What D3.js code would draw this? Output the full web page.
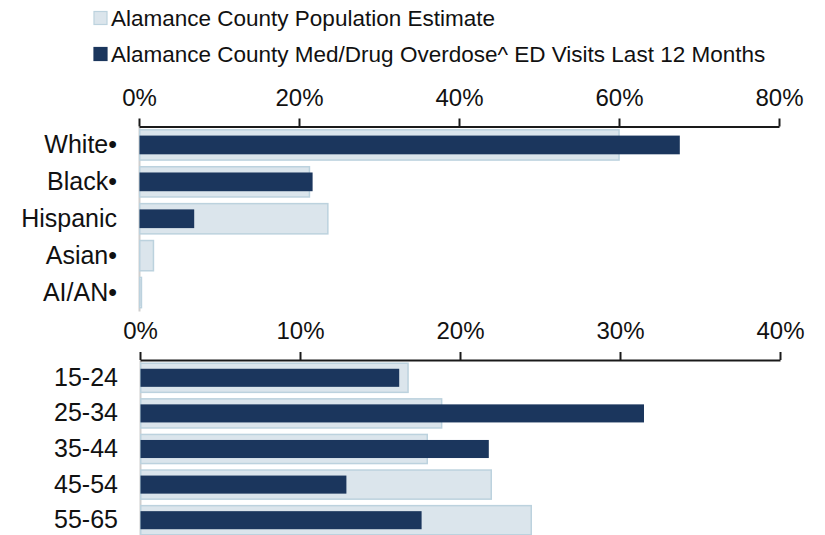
<!DOCTYPE html>
<html>
<head>
<meta charset="utf-8">
<script src="https://cdn.jsdelivr.net/npm/d3@7"></script>
<style>
  html, body { margin: 0; padding: 0; background: #fff; }
  svg { display: block; font-family: "Liberation Sans", Arial, sans-serif; }
</style>
</head>
<body>
<svg id="chart" width="825" height="535"></svg>
<script>
// Race / ethnicity panel (percent)
const raceCategories = ["White•", "Black•", "Hispanic", "Asian•", "AI/AN•"];
const racePopulation = [60.1, 21.4, 23.7, 1.9, 0.4];
const raceEdVisits   = [67.6, 21.7, 6.9, 0, 0];
const raceTicks = [0, 20, 40, 60, 80];

// Age group panel (percent)
const ageCategories = ["15-24", "25-34", "35-44", "45-54", "55-65"];
const agePopulation = [16.8, 18.9, 18.0, 22.0, 24.5];
const ageEdVisits   = [16.2, 31.5, 21.8, 12.9, 17.6];
const ageTicks = [0, 10, 20, 30, 40];

const legendLabels = [
  "Alamance County Population Estimate",
  "Alamance County Med/Drug Overdose^ ED Visits Last 12 Months"
];

const colors = {
  popFill: "#dbe5ec",
  popStroke: "#bcd2de",
  ed: "#1b365d",
  axis: "#1a1a1a",
  baseline: "#cfcfcf",
  text: "#111"
};

const svg = d3.select("#chart");

// Legend
const legend = svg.append("g");
const legendRows = [
  { label: legendLabels[0], fill: colors.popFill, stroke: colors.popStroke, y: 18 },
  { label: legendLabels[1], fill: colors.ed, stroke: colors.ed, y: 54 }
];
legendRows.forEach(r => {
  legend.append("rect")
    .attr("x", 94).attr("y", r.y - 6.5)
    .attr("width", 13).attr("height", 13)
    .attr("fill", r.fill).attr("stroke", r.stroke).attr("stroke-width", 1.2);
  legend.append("text")
    .attr("x", 111).attr("y", r.y)
    .attr("dy", "0.35em")
    .attr("font-size", 22.5)
    .attr("fill", colors.text)
    .text(r.label);
});

function panel(opts) {
  const { categories, population, edVisits, ticks, xMax, xRange, yRange } = opts;
  const g = svg.append("g");

  const x = d3.scaleLinear().domain([0, xMax]).range(xRange);
  const y = d3.scaleBand().domain(categories).range(yRange)
    .paddingInner(0.14).paddingOuter(0.07);

  const rows = categories.map((c, i) => ({ c, pop: population[i], ed: edVisits[i] }));

  // category axis (light baseline at zero)
  const yAxis = g.append("g")
    .attr("transform", `translate(${x(0)},0)`)
    .call(d3.axisLeft(y).tickSize(0).tickSizeOuter(0).tickPadding(22));
  yAxis.select(".domain").attr("stroke", colors.baseline).attr("stroke-width", 2);
  yAxis.selectAll("text")
    .attr("font-size", 25)
    .attr("fill", colors.text)
    .attr("font-family", "Liberation Sans, Arial, sans-serif");

  // population bars (wide, light)
  g.selectAll(".pop").data(rows).join("rect")
    .attr("class", "pop")
    .attr("x", x(0) + 0.75)
    .attr("y", d => y(d.c) + 0.75)
    .attr("width", d => Math.max(0, x(d.pop) - x(0) - 1.5))
    .attr("height", y.bandwidth() - 1.5)
    .attr("fill", colors.popFill)
    .attr("stroke", colors.popStroke)
    .attr("stroke-width", 1.5);

  // ED visit bars (narrow, dark)
  const edH = y.bandwidth() * 0.59;
  g.selectAll(".ed").data(rows.filter(d => d.ed > 0)).join("rect")
    .attr("class", "ed")
    .attr("x", x(0) + 0.5)
    .attr("y", d => y(d.c) + (y.bandwidth() - edH) / 2)
    .attr("width", d => x(d.ed) - x(0) - 0.5)
    .attr("height", edH)
    .attr("fill", colors.ed);

  // value axis on top
  const xAxis = g.append("g")
    .attr("transform", `translate(0,${yRange[0]})`)
    .call(d3.axisTop(x).tickValues(ticks).tickSize(8).tickSizeOuter(0)
      .tickPadding(13).tickFormat(d => d + "%"));
  xAxis.select(".domain").attr("stroke", colors.axis).attr("stroke-width", 2);
  xAxis.selectAll(".tick line").attr("stroke", colors.axis).attr("stroke-width", 2);
  xAxis.selectAll("text")
    .attr("font-size", 24)
    .attr("fill", colors.text)
    .attr("font-family", "Liberation Sans, Arial, sans-serif");
}

panel({
  categories: raceCategories, population: racePopulation, edVisits: raceEdVisits,
  ticks: raceTicks, xMax: 80, xRange: [139, 779], yRange: [126.5, 311]
});

panel({
  categories: ageCategories, population: agePopulation, edVisits: ageEdVisits,
  ticks: ageTicks, xMax: 40, xRange: [140, 780], yRange: [360, 538]
});
</script>
</body>
</html>
